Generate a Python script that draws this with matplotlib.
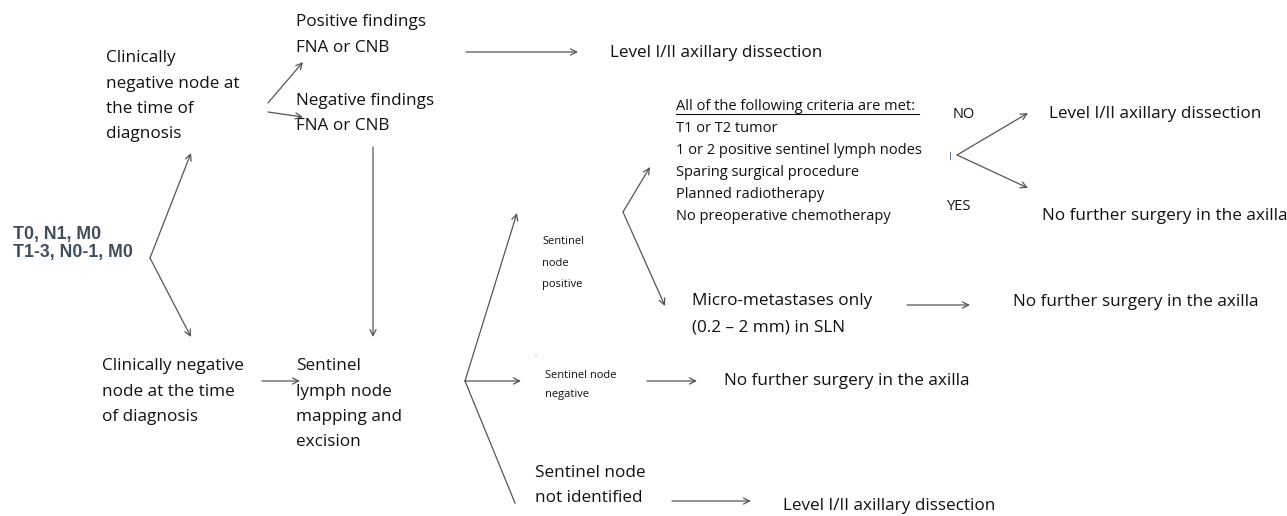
import matplotlib.pyplot as plt

# labels
stage_lines = ["T0, N1, M0", "T1-3, N0-1, M0"]
top_node = ["Clinically", "negative node at", "the time of", "diagnosis"]
bottom_node = ["Clinically negative", "node at the time", "of diagnosis"]
pos_findings = ["Positive findings", "FNA or CNB"]
neg_findings = ["Negative findings", "FNA or CNB"]
sln_mapping = ["Sentinel", "lymph node", "mapping and", "excision"]
sn_positive = ["Sentinel", "node", "positive"]
sn_negative = ["Sentinel node", "negative"]
sn_not_found = ["Sentinel node", "not identified"]
criteria_head = "All of the following criteria are met:"
criteria = ["T1 or T2 tumor", "1 or 2 positive sentinel lymph nodes",
            "Sparing surgical procedure", "Planned radiotherapy",
            "No preoperative chemotherapy"]
micro = ["Micro-metastases only", "(0.2 \u2013 2 mm) in SLN"]
dissection = "Level I/II axillary dissection"
no_surgery = "No further surgery in the axilla"

W, H = 1287, 516
fig = plt.figure(figsize=(W / 100, H / 100), dpi=100)
ax = fig.add_axes([0, 0, 1, 1])
ax.set_xlim(0, W)
ax.set_ylim(H, 0)
ax.axis('off')

FONT = 'Open Sans'
LC = '#555555'
TC = '#111111'
BIG = 12.3
MID = 10.5


def block(x, y, lines, step=25.5, size=BIG, **kw):
    for i, s in enumerate(lines):
        ax.text(x, y + i * step, s, fontsize=size, family=FONT,
                va='center', ha='left', color=TC, **kw)


def arrow(x0, y0, x1, y1):
    ax.annotate('', xy=(x1, y1), xytext=(x0, y0),
                arrowprops=dict(arrowstyle='->', color=LC, lw=0.9,
                                mutation_scale=11, shrinkA=0, shrinkB=0))


def line(x0, y0, x1, y1):
    ax.plot([x0, x1], [y0, y1], color=LC, lw=0.9)


# stage text
for i, s in enumerate(stage_lines):
    ax.text(13, 234 + i * 19, s, fontsize=12.8, family='Liberation Sans',
            weight='bold', color='#3d4e5e', va='center')

block(106, 58, top_node)
block(102, 366, bottom_node)
block(296, 22, pos_findings, step=26)
block(296, 101, neg_findings, step=25)
block(296, 366, sln_mapping)
block(542, 242, sn_positive, step=21.5, size=8)
block(545, 376, sn_negative, step=19, size=8)
block(535, 473, sn_not_found)
block(692, 301, micro, step=26)

ax.text(676, 106, criteria_head, fontsize=MID, family=FONT, va='center', color=TC)
ax.plot([676, 919], [114, 114], color=TC, lw=0.8)
block(676, 128, criteria, step=22, size=MID)

ax.text(953, 114, "NO", fontsize=MID, family=FONT, va='center', color=TC)
ax.text(947, 207, "YES", fontsize=MID, family=FONT, va='center', color=TC)
ax.text(949, 157, "I", fontsize=7, family=FONT, va='center', color='#2f5597')
ax.text(533, 355, "..", fontsize=6, family=FONT, va='center', color='#999999')

ax.text(610, 53, dissection, fontsize=BIG, family=FONT, va='center', color=TC)
ax.text(1049, 114, dissection, fontsize=BIG, family=FONT, va='center', color=TC)
ax.text(783, 506, dissection, fontsize=BIG, family=FONT, va='center', color=TC)
ax.text(1042, 216, no_surgery, fontsize=BIG, family=FONT, va='center', color=TC)
ax.text(1013, 302, no_surgery, fontsize=BIG, family=FONT, va='center', color=TC)
ax.text(724, 381, no_surgery, fontsize=BIG, family=FONT, va='center', color=TC)

# connectors
arrow(150, 258, 191, 153)
arrow(150, 258, 191, 337)
arrow(268, 103, 303, 62)
arrow(268, 112, 303, 117)
arrow(466, 52, 578, 52)
arrow(373, 147, 373, 337)
arrow(262, 381, 300, 381)
arrow(465, 381, 517, 213)
arrow(465, 381, 521, 381)
line(465, 381, 515, 503)
arrow(623, 212, 650, 167)
arrow(623, 212, 665, 306)
arrow(957, 155, 1028, 113)
arrow(957, 155, 1028, 188)
arrow(907, 305, 970, 305)
arrow(647, 381, 697, 381)
arrow(672, 501, 751, 501)

fig.savefig('out.png', dpi=100)
